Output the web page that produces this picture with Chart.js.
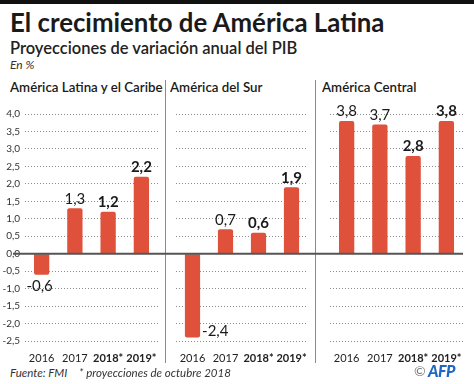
<!DOCTYPE html>
<html>
<head>
<meta charset="utf-8">
<script src="https://cdn.jsdelivr.net/npm/chart.js@4"></script>
<style>
  body { margin: 0; background: #fff; font-family: Lato, "Noto Sans", sans-serif; color: #1a1a1a; }
  #wrap { position: relative; width: 474px; height: 384px; overflow: hidden; }
  .txt { position: absolute; white-space: nowrap; line-height: 1; }
  .panel { position: absolute; top: 95px; height: 270px; }
  .divider { position: absolute; top: 80px; height: 283px; width: 1px; background: #8a8a8a; }
</style>
</head>
<body>
<div id="wrap">
  <div style="position:absolute;left:0;top:0;width:474px;height:4px;background:#111"></div>
  <div class="txt" style="left:10px;top:10px;font-size:25.8px;font-weight:bold">El crecimiento de América Latina</div>
  <div class="txt" style="left:10px;top:40px;font-size:16.5px;font-weight:600;color:#222">Proyecciones de variación anual del PIB</div>
  <div class="txt" style="left:10px;top:59px;font-size:12px;font-style:italic;color:#333">En %</div>

  <div class="txt" style="left:10px;top:81px;font-size:13.3px;font-weight:600">América Latina y el Caribe</div>
  <div class="txt" style="left:170px;top:81px;font-size:13.3px;font-weight:600">América del Sur</div>
  <div class="txt" style="left:322px;top:81px;font-size:13.3px;font-weight:600">América Central</div>

  <div class="divider" style="left:165px"></div>
  <div class="divider" style="left:315px"></div>

  <div class="panel" style="left:0;width:165px"><canvas id="c1"></canvas></div>
  <div class="panel" style="left:165px;width:150px"><canvas id="c2"></canvas></div>
  <div class="panel" style="left:315px;width:159px"><canvas id="c3"></canvas></div>

  <div class="txt" style="left:10px;top:367px;font-size:11.5px;font-style:italic;color:#333">Fuente: FMI</div>
  <div class="txt" style="left:79px;top:367px;font-size:11.5px;font-style:italic;color:#333">* proyecciones de octubre 2018</div>
  <div class="txt" style="left:414px;top:364px;font-size:14px;color:#777">©</div>
  <div class="txt" style="left:428px;top:363px;font-size:16px;font-weight:900;font-style:italic;color:#1f67c2;letter-spacing:-0.5px">AFP</div>
</div>

<script>
const years = ['2016', '2017', '2018*', '2019*'];
const latinaCaribe = [-0.6, 1.3, 1.2, 2.2];
const sur = [-2.4, 0.7, 0.6, 1.9];
const central = [3.8, 3.7, 2.8, 3.8];

const barColor = '#e0513c';
const fmt = v => v.toFixed(1).replace('.', ',');

// value labels above / below the bars
const valueLabels = {
  id: 'valueLabels',
  afterDatasetsDraw(chart) {
    const ctx = chart.ctx;
    const area = chart.chartArea;
    const meta = chart.getDatasetMeta(0);
    const data = chart.data.datasets[0].data;
    ctx.save();
    ctx.fillStyle = '#1a1a1a';
    meta.data.forEach((bar, i) => {
      const v = data[i];
      ctx.font = (i >= 2 ? 'bold ' : '') + '15px Lato, "Noto Sans", sans-serif';
      if (v >= 0) {
        ctx.textAlign = 'center';
        ctx.textBaseline = 'bottom';
        ctx.fillText(fmt(v), bar.x, bar.y - 2);
      } else if (bar.y + 20 > area.bottom) {
        ctx.textAlign = 'left';
        ctx.textBaseline = 'bottom';
        ctx.fillText(fmt(v), bar.x + bar.width / 2 + 2, bar.y + 1);
      } else {
        ctx.textAlign = 'center';
        ctx.textBaseline = 'top';
        ctx.fillText(fmt(v), bar.x - 2, bar.y + 4);
      }
    });
    ctx.restore();
  }
};

// thick zero line across the whole panel
const zeroLine = {
  id: 'zeroLine',
  afterDatasetsDraw(chart, args, opts) {
    const ctx = chart.ctx;
    const y = chart.scales.y.getPixelForValue(0);
    ctx.save();
    ctx.strokeStyle = '#555';
    ctx.lineWidth = 2;
    ctx.beginPath();
    ctx.moveTo(opts.from, y);
    ctx.lineTo(opts.to, y);
    ctx.stroke();
    ctx.restore();
  }
};

function makePanel(id, values, leftW, rightPad, showTicks, lineFrom, lineTo) {
  return new Chart(document.getElementById(id), {
    type: 'bar',
    data: {
      labels: years,
      datasets: [{
        data: values,
        backgroundColor: barColor,
        borderRadius: 2,
        categoryPercentage: 1,
        barPercentage: 0.46
      }]
    },
    options: {
      responsive: true,
      maintainAspectRatio: false,
      animation: false,
      events: [],
      layout: { padding: { top: 19, right: rightPad, bottom: 0, left: 0 } },
      plugins: {
        legend: { display: false },
        tooltip: { enabled: false },
        zeroLine: { from: lineFrom, to: lineTo }
      },
      scales: {
        x: {
          grid: { display: false },
          border: { display: false },
          ticks: {
            padding: 3,
            color: '#222',
            maxRotation: 0,
            minRotation: 0,
            autoSkip: false,
            font: c => ({ size: 11, family: 'Lato, "Noto Sans", sans-serif', weight: c.index >= 2 ? 'bold' : 'normal' })
          },
          afterFit: s => { s.height = 24; }
        },
        y: {
          min: -2.5,
          max: 4,
          border: { display: false, dash: [1, 2] },
          grid: {
            drawTicks: false,
            borderDash: [1, 2],
            color: c => c.tick.value === 0 ? 'rgba(0,0,0,0)' : '#8c8c8c',
            lineWidth: 1
          },
          ticks: {
            display: showTicks,
            stepSize: 0.5,
            padding: 5,
            color: '#333',
            font: { size: 10, family: 'Lato, "Noto Sans", sans-serif' },
            callback: v => fmt(v)
          },
          afterFit: s => { s.width = leftW; }
        }
      }
    },
    plugins: [valueLabels, zeroLine]
  });
}

makePanel('c1', latinaCaribe, 25, 7, true, 13, 165);
makePanel('c2', sur, 11, 7, false, 0, 150);
makePanel('c3', central, 15, 11, false, 0, 148);
</script>
</body>
</html>
